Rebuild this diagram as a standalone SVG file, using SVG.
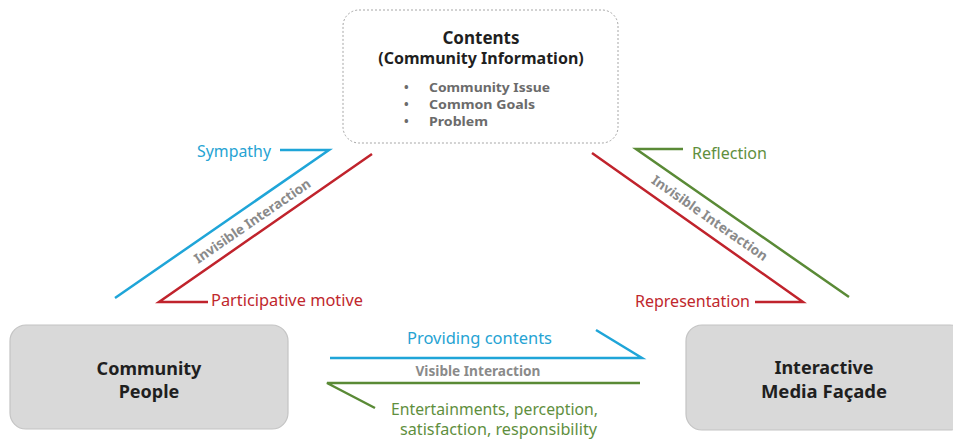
<svg xmlns="http://www.w3.org/2000/svg" width="953" height="441" viewBox="0 0 953 441">
  <style>
    .box { fill: #d9d9d9; stroke: #c4c4c4; stroke-width: 1.2; }
    .dash { fill: #ffffff; stroke: #a6a6a6; stroke-width: 1; stroke-dasharray: 2 2; }
    .title { font-family: "Noto Sans", "Open Sans", sans-serif; font-weight: bold; fill: #1f1f1f; text-anchor: middle; }
    .item { font-family: "Noto Sans", "Open Sans", sans-serif; font-weight: bold; font-size: 12.4px; fill: #6b6b6b; }
    .lbl { font-family: "Noto Sans", "Open Sans", sans-serif; font-size: 16px; }
    .inv { font-family: "Noto Sans", "Open Sans", sans-serif; font-weight: bold; font-size: 13.5px; fill: #8a8a8a; text-anchor: middle; }
    .ln { fill: none; stroke-width: 2.5; stroke-linejoin: miter; }
    .blue { stroke: #1fa5d8; }
    .red { stroke: #c0232c; }
    .green { stroke: #5a8a36; }
  </style>

  <!-- top node: contents -->
  <g id="contents">
    <rect class="dash" x="343" y="10" width="275" height="133" rx="16"/>
    <text class="title" x="481" y="44" font-size="17">Contents</text>
    <text class="title" x="481" y="64" font-size="16">(Community Information)</text>
    <text class="item" y="92"><tspan x="404">•</tspan><tspan x="429" textLength="121" lengthAdjust="spacingAndGlyphs">Community Issue</tspan></text>
    <text class="item" y="109"><tspan x="404">•</tspan><tspan x="429" textLength="106" lengthAdjust="spacingAndGlyphs">Common Goals</tspan></text>
    <text class="item" y="126"><tspan x="404">•</tspan><tspan x="429" textLength="59" lengthAdjust="spacingAndGlyphs">Problem</tspan></text>
  </g>

  <!-- bottom-left node -->
  <g id="community-people">
    <rect class="box" x="10" y="325" width="278" height="104" rx="16"/>
    <text class="title" x="149" y="375" font-size="18">Community</text>
    <text class="title" x="149" y="398" font-size="18">People</text>
  </g>

  <!-- bottom-right node -->
  <g id="media-facade">
    <rect class="box" x="686" y="325" width="280" height="105" rx="16"/>
    <text class="title" x="824" y="374" font-size="18">Interactive</text>
    <text class="title" x="824" y="398" font-size="18.5">Media Façade</text>
  </g>

  <!-- connectors -->
  <g id="connectors">
    <!-- left side: people <-> contents -->
    <polyline class="ln blue" points="115,298 329,150 280,150"/>
    <polyline class="ln red" points="372,154 159,302 208,302"/>
    <!-- right side: contents <-> facade -->
    <polyline class="ln green" points="849,297 636,149 683,149"/>
    <polyline class="ln red" points="592,153 803,302 755,302"/>
    <!-- bottom: people <-> facade -->
    <polyline class="ln blue" points="330,358 642,358 596,330"/>
    <polyline class="ln green" points="640,383 327,383 375,408"/>
  </g>

  <!-- connector labels -->
  <g id="labels">
    <text class="lbl" x="197" y="157" fill="#26a3d3" textLength="74" lengthAdjust="spacingAndGlyphs">Sympathy</text>
    <text class="lbl" x="211" y="306" fill="#c0272d" textLength="152" lengthAdjust="spacingAndGlyphs">Participative motive</text>
    <text class="lbl" x="692" y="159" fill="#5f8f3e" textLength="75" lengthAdjust="spacingAndGlyphs">Reflection</text>
    <text class="lbl" x="635" y="307" fill="#c0272d" textLength="115" lengthAdjust="spacingAndGlyphs">Representation</text>
    <text class="lbl" x="407" y="344" fill="#26a3d3" textLength="145" lengthAdjust="spacingAndGlyphs">Providing contents</text>
    <text class="inv" x="478" y="376" font-size="13" textLength="125" lengthAdjust="spacingAndGlyphs">Visible Interaction</text>
    <text class="lbl" x="391" y="415" fill="#5f8f3e" textLength="207" lengthAdjust="spacingAndGlyphs">Entertainments, perception,</text>
    <text class="lbl" x="400" y="435" fill="#5f8f3e" textLength="197" lengthAdjust="spacingAndGlyphs">satisfaction, responsibility</text>
    <text class="inv" transform="translate(255,225) rotate(-34.5)" textLength="138" lengthAdjust="spacingAndGlyphs">Invisible Interaction</text>
    <text class="inv" transform="translate(707,222) rotate(35)" textLength="138" lengthAdjust="spacingAndGlyphs">Invisible Interaction</text>
  </g>
</svg>
